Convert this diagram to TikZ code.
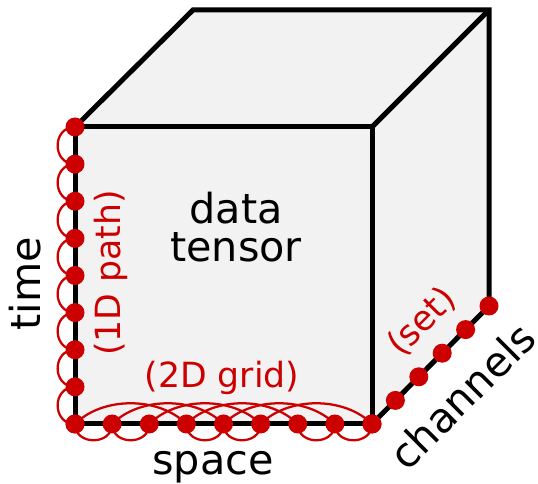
\documentclass[tikz,border=0pt]{standalone}
\usepackage{fontspec}
\setmainfont{DejaVu Sans}
\definecolor{linkred}{HTML}{CC0000}
\definecolor{facegray}{HTML}{F2F2F2}
\begin{document}
\begin{tikzpicture}[x=0.75pt,y=0.75pt,
  edge/.style={line width=3.75pt},
  link/.style={linkred, line width=1.7pt},
  dot/.style={circle, fill=linkred, inner sep=0pt, minimum size=14.25pt},
  bigtext/.style={font=\fontsize{31}{29}\selectfont},
  redtext/.style={text=linkred, font=\fontsize{26}{30}\selectfont}]
\useasboundingbox (0,0) rectangle (538,484);
\pgfmathsetmacro{\d}{297/8}
% cube corners
\coordinate (fbl) at (75,60);
\coordinate (fbr) at (372,60);
\coordinate (ftl) at (75,357);
\coordinate (ftr) at (372,357);
\coordinate (btl) at (193,474);
\coordinate (btr) at (489,474);
\coordinate (bbr) at (489,178);
\fill[facegray] (fbl) -- (fbr) -- (bbr) -- (btr) -- (btl) -- (ftl) -- cycle;
\draw[edge] (fbl) rectangle (ftr);
\draw[edge] (ftl) -- (btl) -- (btr) -- (bbr) -- (fbr);
\draw[edge] (ftr) -- (btr);
% points along the three axes
\foreach \i in {0,...,8} {
  \coordinate (t\i) at (75,{357-\i*\d});
  \coordinate (s\i) at ({75+\i*\d},60);
}
\foreach \i in {0,...,5}
  \coordinate (c\i) at ({372+\i*23.4},{60+\i*23.6});
% 1D path
\foreach \i [count=\j from 1] in {0,...,7}
  \draw[link] (t\i) to[out=180,in=180,looseness=1.6] (t\j);
% 2D grid
\foreach \i/\j in {0/1,1/2,3/4,4/5,6/7,7/8}
  \draw[link] (s\i) to[out=-90,in=-90,looseness=1.5] (s\j);
\foreach \i [evaluate=\i as \j using int(\i+3)] in {0,...,5}
  \draw[link] (s\i) to[out=45,in=135,looseness=0.9] (s\j);
\foreach \i in {0,...,8} {
  \node[dot] (tn\i) at (t\i) {};
  \node[dot] (sn\i) at (s\i) {};
}
\foreach \i in {0,...,5}
  \node[dot] (cn\i) at (c\i) {};
% labels
\node[bigtext, align=center] (tensor) at (236,257) {data\\tensor};
\node[bigtext, rotate=90] (time) at (25,200) {time};
\node[bigtext, anchor=base] (space) at (213,9) {space};
\node[bigtext, rotate=45] (channels) at (462,88) {channels};
\node[redtext, rotate=90] (path) at (111,211) {(1D path)};
\node[redtext] (grid) at (222,106) {(2D grid)};
\node[redtext, rotate=45] (set) at (422,162) {(set)};
\end{tikzpicture}
\end{document}
